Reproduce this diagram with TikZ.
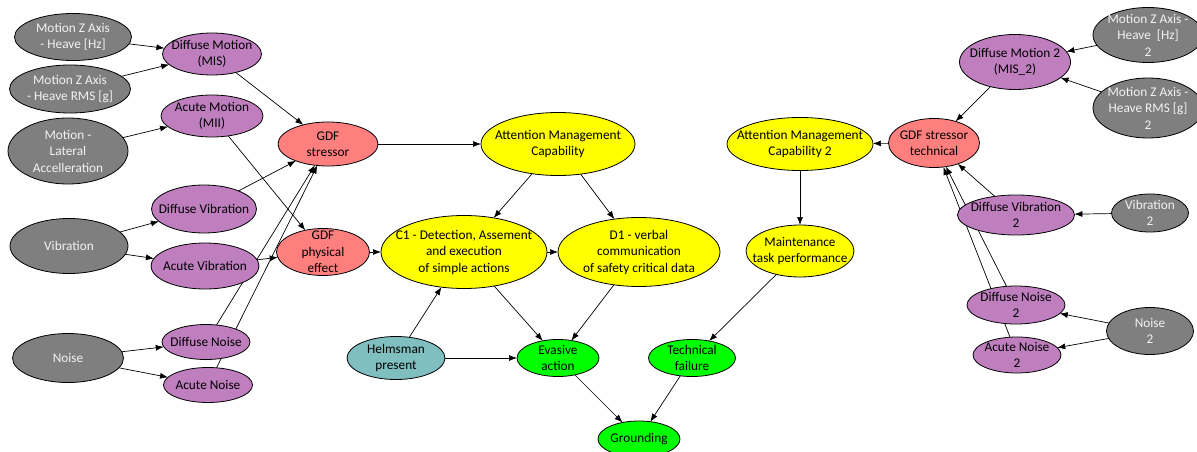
\documentclass[tikz,border=0pt]{standalone}
\usepackage{fontspec}
\setmainfont{Carlito}
\usetikzlibrary{shapes.geometric,arrows.meta}
\pgfdeclarelayer{bg}
\pgfsetlayers{bg,main}
\definecolor{cgray}{RGB}{127,127,127}
\definecolor{cpurp}{RGB}{191,127,191}
\definecolor{cred}{RGB}{255,127,127}
\definecolor{cyel}{RGB}{255,255,0}
\definecolor{cgrn}{RGB}{0,255,0}
\definecolor{cteal}{RGB}{127,191,191}
\definecolor{cwtxt}{RGB}{242,242,242}
\tikzset{
  base/.style={ellipse, draw=black, line width=0.8pt, inner sep=0pt, outer sep=0pt},
  grayN/.style={base, fill=cgray},
  purpN/.style={base, fill=cpurp},
  redN/.style={base, fill=cred},
  yelN/.style={base, fill=cyel},
  grnN/.style={base, fill=cgrn},
  tealN/.style={base, fill=cteal},
  txt/.style={align=center, inner sep=0pt, font=\fontsize{13.3}{16.5}\selectfont, text=black},
  grayNt/.style={txt, text=cwtxt},
  purpNt/.style={txt}, redNt/.style={txt}, yelNt/.style={txt}, grnNt/.style={txt}, tealNt/.style={txt},
  arr/.style={-{Latex[length=8pt,width=6pt]}, line width=0.7pt, draw=black}
}
\newcommand\enode[7]{\node[#2, minimum width=#5pt, minimum height=#6pt, label={[#2t]center:{#7}}] (#1) at (#3,#4) {};}
\begin{document}
\begin{tikzpicture}[x=1pt,y=-1pt]
\useasboundingbox (0,0) rectangle (1197,452);
% left inputs
\enode{gz1}{grayN}{73}{37}{117}{47}{Motion Z Axis\\- Heave [Hz]}
\enode{gz2}{grayN}{70}{89}{121}{48}{Motion Z Axis\\- Heave RMS [g]}
\enode{gl}{grayN}{68}{151}{120}{66}{Motion -\\Lateral\\Accelleration}
\enode{vib}{grayN}{69}{246}{118}{55}{Vibration}
\enode{noi}{grayN}{68}{358}{111}{49}{Noise}
% purple left
\enode{dm}{purpN}{212}{54}{99}{42}{Diffuse Motion\\(MIS)}
\enode{am}{purpN}{212}{116}{102}{42}{Acute Motion\\(MII)}
\enode{dv}{purpN}{204}{209}{105}{48}{Diffuse Vibration}
\enode{av}{purpN}{205}{266}{108}{46}{Acute Vibration}
\enode{dn}{purpN}{206}{342}{88}{35}{Diffuse Noise}
\enode{an}{purpN}{208}{385}{89}{35}{Acute Noise}
% red
\enode{gs}{redN}{328}{144}{100}{44}{GDF\\stressor}
\enode{gp}{redN}{323}{252}{93}{47}{GDF\\physical\\effect}
% yellow
\enode{amc}{yelN}{558}{144}{154}{63}{Attention Management\\Capability}
\enode{c1}{yelN}{464}{252}{166}{73}{C1 - Detection, Assement\\and execution\\of simple actions}
\enode{d1}{yelN}{639}{252}{162}{69}{D1 - verbal\\communication\\of safety critical data}
\enode{amc2}{yelN}{800}{144}{146}{53}{Attention Management\\Capability 2}
\enode{mt}{yelN}{800}{251}{108}{52}{Maintenance\\task performance}
% teal / green
\enode{hp}{tealN}{396}{358}{98}{43}{Helmsman\\present}
\enode{ev}{grnN}{558}{358}{82}{37}{Evasive\\action}
\enode{tf}{grnN}{692}{358}{87}{37}{Technical\\failure}
\enode{gr}{grnN}{639}{439}{82}{36}{Grounding}
% right side
\enode{gst}{redN}{934}{143}{91}{49}{GDF stressor\\technical}
\enode{dm2}{purpN}{1015}{62}{111}{55}{Diffuse Motion 2\\(MIS\_2)}
\enode{gzb1}{grayN}{1148}{35}{110}{55}{Motion Z Axis -\\Heave~~[Hz]\\2}
\enode{gzb2}{grayN}{1148}{108}{110}{60}{Motion Z Axis -\\Heave RMS [g]\\2}
\enode{dv2}{purpN}{1016}{215}{117}{40}{Diffuse Vibration\\2}
\enode{vib2}{grayN}{1150}{213}{77}{38}{Vibration\\2}
\enode{dn2}{purpN}{1016}{305}{98}{38}{Diffuse Noise\\2}
\enode{an2}{purpN}{1017}{355}{88}{36}{Acute Noise\\2}
\enode{noi2}{grayN}{1150}{331}{87}{47}{Noise\\2}
\begin{pgfonlayer}{bg}
\draw[arr] (gz1) -- (dm);
\draw[arr] (gz2) -- (dm);
\draw[arr] (gl) -- (am);
\draw[arr] (vib) -- (dv);
\draw[arr] (vib) -- (av);
\draw[arr] (noi) -- (dn);
\draw[arr] (noi) -- (an);
\draw[arr] (dm) -- (gs);
\draw[arr] (am) -- (gp);
\draw[arr] (dv) -- (gs);
\draw[arr] (av) -- (gp);
\draw[arr] (dn) -- (gs);
\draw[arr] (an) -- (gs);
\draw[arr] (gs) -- (amc);
\draw[arr] (gp) -- (c1);
\draw[arr] (amc) -- (c1);
\draw[arr] (amc) -- (d1);
\draw[arr] (c1) -- (d1);
\draw[arr] (c1) -- (ev);
\draw[arr] (d1) -- (ev);
\draw[arr] (hp) -- (c1);
\draw[arr] (hp) -- (ev);
\draw[arr] (ev) -- (gr);
\draw[arr] (tf) -- (gr);
\draw[arr] (mt) -- (tf);
\draw[arr] (amc2) -- (mt);
\draw[arr] (gst) -- (amc2);
\draw[arr] (dm2) -- (gst);
\draw[arr] (gzb1) -- (dm2);
\draw[arr] (gzb2) -- (dm2);
\draw[arr] (vib2) -- (dv2);
\draw[arr] (noi2) -- (dn2);
\draw[arr] (noi2) -- (an2);
\draw[arr] (dv2) -- (gst);
\draw[arr] (dn2) -- (gst);
\draw[arr] (an2) -- (gst);
\end{pgfonlayer}
\end{tikzpicture}
\end{document}
